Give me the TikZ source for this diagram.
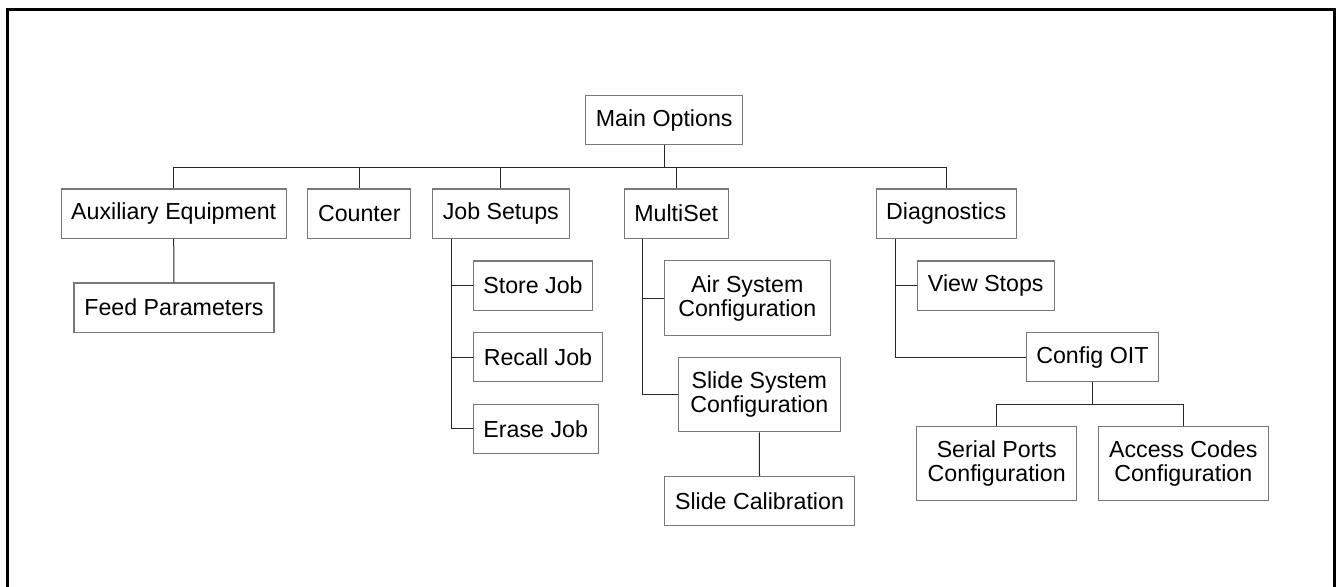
\documentclass[tikz,border=0pt]{standalone}
\usepackage{fontspec}
\setmainfont{Liberation Sans}
\begin{document}
\begin{tikzpicture}[x=0.75pt,y=-0.75pt,
  box/.style={draw={rgb,255:red,120;green,120;blue,120}, line width=0.8pt, fill=white,
    inner sep=0pt, align=center, minimum height={49.4*0.75pt}, font=\fontsize{17.4}{18}\selectfont},
  tallbox/.style={box, minimum height={74.5*0.75pt}},
  bw/.style={minimum width={#1*0.75pt}},
  link/.style={draw={rgb,255:red,40;green,40;blue,40}, line width=0.75pt},
  frame/.style={draw=black, line width=2.3pt}]
\useasboundingbox (0,0) rectangle (1339,586);
\draw[frame] (7.5,590) -- (7.5,9.5) -- (1334.5,9.5) -- (1334.5,590);

% top level
\node[box, bw=157] (main) at (664.2,120) {Main Options};
\node[box, bw=225.3] (aux) at (173.7,213.7) {Auxiliary Equipment};
\node[box, bw=102.7] (counter) at (359.3,213.7) {Counter};
\node[box, bw=137] (jobs) at (500.8,213.7) {Job Setups};
\node[box, bw=103.7] (multi) at (676.2,213.7) {MultiSet};
\node[box, bw=140.3] (diag) at (946.2,213.7) {Diagnostics};

% second level
\node[box, bw=200] (feed) at (174,307.7) {Feed Parameters};
\node[box, bw=119.4] (store) at (533,285.7) {Store Job};
\node[box, bw=129.4] (recall) at (538,357) {Recall Job};
\node[box, bw=124.7] (erase) at (535.7,428.8) {Erase Job};
\node[tallbox, bw=166] (air) at (747.3,298.2) {Air System\\Configuration};
\node[tallbox, bw=162] (slidesys) at (759.3,394.7) {Slide System\\Configuration};
\node[box, bw=189.6] (slidecal) at (759.5,501) {Slide Calibration};
\node[box, bw=137] (view) at (985.8,285.7) {View Stops};
\node[box, bw=132.2] (oit) at (1092.4,357.1) {Config OIT};
\node[tallbox, bw=160] (serial) at (996.7,463.7) {Serial Ports\\Configuration};
\node[tallbox, bw=170] (access) at (1183.3,463.7) {Access Codes\\Configuration};

% connectors
\coordinate (busA) at (664.2,167.3);
\draw[link] (main.south) -- (busA);
\draw[link] (busA) -| (aux.north);
\draw[link] (busA) -| (counter.north);
\draw[link] (busA) -| (jobs.north);
\draw[link] (busA) -| (multi.north);
\draw[link] (busA) -| (diag.north);

\draw[link] (aux.south) -- (feed.north);

\coordinate (jt) at ([xshift={19.4*0.75pt}]jobs.south west);
\draw[link] (jt) |- (store.west);
\draw[link] (jt) |- (recall.west);
\draw[link] (jt) |- (erase.west);

\coordinate (mt) at ([xshift={18.4*0.75pt}]multi.south west);
\draw[link] (mt) |- (air.west);
\draw[link] (mt) |- (slidesys.west);
\draw[link] (slidesys.south) -- (slidecal.north);

\coordinate (dt) at ([xshift={20*0.75pt}]diag.south west);
\draw[link] (dt) |- (view.west);
\draw[link] (dt) |- (oit.west);

\coordinate (busB) at (1092.4,404.2);
\draw[link] (oit.south) -- (busB);
\draw[link] (busB) -| (serial.north);
\draw[link] (busB) -| (access.north);
\end{tikzpicture}
\end{document}
